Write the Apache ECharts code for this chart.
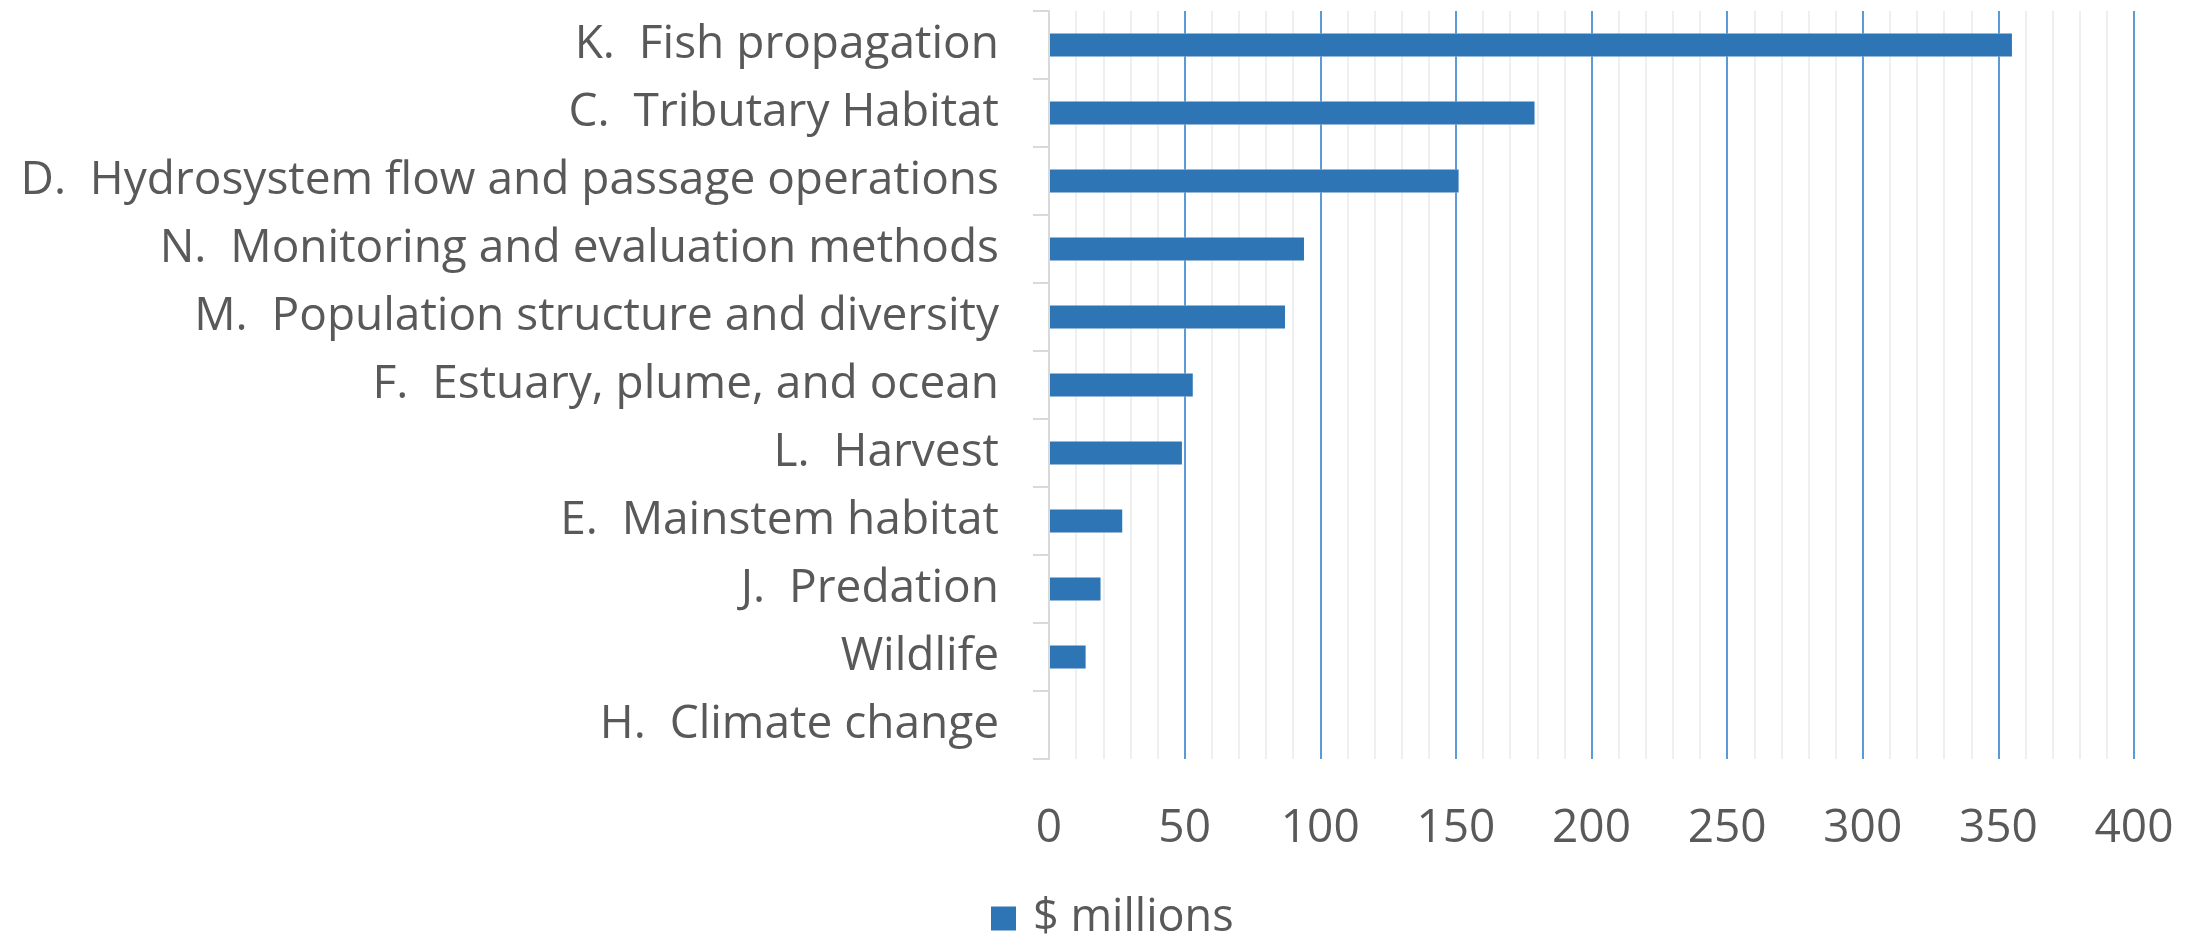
<!DOCTYPE html>
<html>
<head>
<meta charset="utf-8">
<script src="https://cdn.jsdelivr.net/npm/echarts@6/dist/echarts.min.js"></script>
<style>
html,body{margin:0;padding:0;background:#fff;}
#chart{width:2201px;height:934px;}
</style>
</head>
<body>
<div id="chart"></div>
<script>
const categories = [
  'K.  Fish propagation',
  'C.  Tributary Habitat',
  'D.  Hydrosystem flow and passage operations',
  'N.  Monitoring and evaluation methods',
  'M.  Population structure and diversity',
  'F.  Estuary, plume, and ocean',
  'L.  Harvest',
  'E.  Mainstem habitat',
  'J.  Predation',
  'Wildlife',
  'H.  Climate change'
];
const values = [355, 179, 151, 94, 87, 53, 49, 27, 19, 13.5, 0];
const seriesName = '$ millions';
const xTicks = [0, 50, 100, 150, 200, 250, 300, 350, 400];

const FONT = 'Open Sans';
const TEXT = '#595959';
const BLUE = '#2e75b6';
const GRID_BLUE = '#5b9bd5';

const chart = echarts.init(document.getElementById('chart'), null, {renderer: 'canvas'});
const majorColors = xTicks.map((t, i) => i === 0 ? '#d9d9d9' : GRID_BLUE);

chart.setOption({
  animation: false,
  backgroundColor: '#ffffff',
  grid: {left: 1049, right: 67, top: 11, bottom: 175, containLabel: false, outerBoundsMode: 'none'},
  legend: {
    data: [seriesName],
    left: 986,
    top: 891,
    icon: 'rect',
    itemWidth: 25,
    itemHeight: 24,
    textStyle: {fontFamily: FONT, fontSize: 45, color: TEXT, padding: [0, 0, 0, 12]}
  },
  xAxis: {
    type: 'value',
    min: xTicks[0],
    max: xTicks[xTicks.length - 1],
    interval: 50,
    axisLine: {show: false},
    axisTick: {show: false},
    axisLabel: {fontFamily: FONT, fontSize: 46, color: TEXT, margin: 47},
    splitLine: {show: true, lineStyle: {color: majorColors, width: 2}},
    minorTick: {show: false, splitNumber: 5},
    minorSplitLine: {show: true, lineStyle: {color: '#efefef', width: 2}}
  },
  yAxis: {
    type: 'category',
    inverse: true,
    data: categories,
    z: 10,
    axisLine: {show: true, lineStyle: {color: '#d9d9d9', width: 2}},
    axisTick: {show: true, length: 16, lineStyle: {color: '#d9d9d9', width: 2}},
    axisLabel: {fontFamily: FONT, fontSize: 46, color: TEXT, margin: 50},
    splitLine: {show: false}
  },
  series: [
    {
      name: 'halo',
      type: 'bar',
      data: values,
      barWidth: 23,
      silent: true,
      itemStyle: {color: '#ffffff', borderColor: '#ffffff', borderWidth: 8}
    },
    {
      name: seriesName,
      type: 'bar',
      data: values,
      barWidth: 23,
      barGap: '-100%',
      itemStyle: {color: BLUE}
    }
  ]
});
</script>
</body>
</html>
